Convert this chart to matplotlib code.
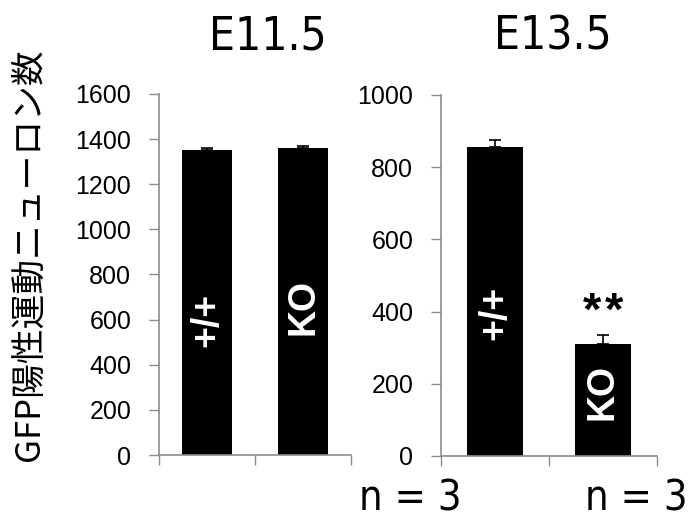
import numpy as np
import matplotlib.pyplot as plt

plt.rcParams['font.family'] = ['Liberation Sans', 'DejaVu Sans']

# E11.5 と E13.5 の GFP 陽性運動ニューロン数（平均 ± 誤差）
genotypes = ['+/+', 'KO']
e115_mean = [1352, 1360]
e115_err = [8, 8]
e135_mean = [855, 309]
e135_err = [20, 26]

spine_col = '#8c8c8c'

fig = plt.figure(figsize=(6.92, 5.19), dpi=100)
ax1 = fig.add_axes([0.2298, 0.1233, 0.2775, 0.6956])
ax2 = fig.add_axes([0.6373, 0.1214, 0.3121, 0.6956])


def draw_panel(ax, mean, err, ymax, step, width, label_y):
    x = np.arange(len(mean))
    ax.bar(x, mean, width=width, color='black', zorder=2)
    ax.errorbar(x, mean, yerr=[np.zeros(len(err)), err], fmt='none',
                ecolor='black', elinewidth=1.2, capsize=4, capthick=1.2, zorder=1)
    ax.set_xlim(-0.5, len(mean) - 0.5)
    ax.set_ylim(0, ymax)
    ax.set_yticks(np.arange(0, ymax + 1, step))
    ax.set_xticks([])
    ax.set_xticks(np.arange(-0.5, len(mean)), minor=True)
    ax.tick_params(axis='x', which='minor', length=7, width=1, color=spine_col, labelbottom=False)
    ax.tick_params(axis='y', length=7, width=1, color=spine_col, labelsize=18, pad=13)
    for s in ['top', 'right']:
        ax.spines[s].set_visible(False)
    for s in ['left', 'bottom']:
        ax.spines[s].set_color(spine_col)
        ax.spines[s].set_linewidth(1.2)
    for xi, g, ly in zip(x, genotypes, label_y):
        ax.text(xi, ly, g, rotation=90, color='white', fontsize=27, fontweight='bold',
                ha='center', va='center')


draw_panel(ax1, e115_mean, e115_err, 1600, 200, 0.53, [598, 656])
draw_panel(ax2, e135_mean, e135_err, 1000, 200, 0.52, [396, 177])

# 有意差マーク（KO の上に ** ）
for dx in (-0.1, 0.1):
    ax2.text(1 + dx, 458, '*', ha='center', va='top', fontsize=34, fontweight='bold',
             family='Liberation Sans')

big = dict(family='DejaVu Sans', stretch='condensed')
fig.text(0.387, 0.929, 'E11.5', ha='center', va='center', fontsize=33, **big)
fig.text(0.799, 0.929, 'E13.5', ha='center', va='center', fontsize=33, **big)
fig.text(0.593, 0.040, 'n = 3', ha='center', va='center', fontsize=30, **big)
fig.text(0.845, 0.040, 'n = 3', ha='left', va='center', fontsize=30, **big)

fig.text(0.042, 0.509, 'GFP陽性運動ニューロン数', rotation=90, ha='center', va='center',
         fontsize=25, family=['Noto Sans CJK JP', 'DejaVu Sans'])

fig.savefig('out.png', dpi=100)
